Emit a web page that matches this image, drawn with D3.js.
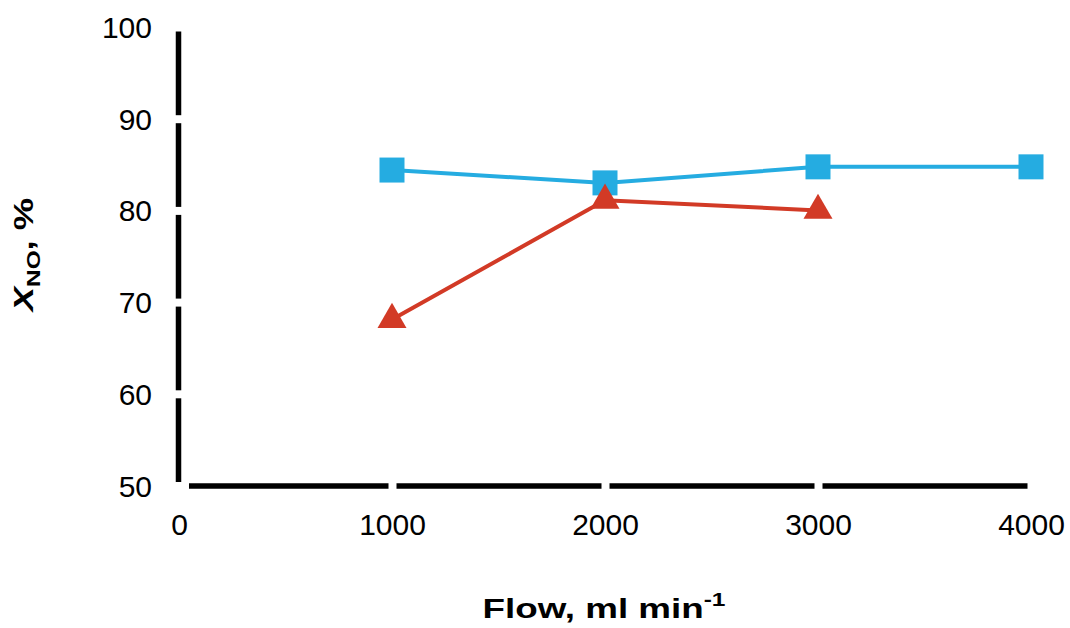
<!DOCTYPE html>
<html>
<head>
<meta charset="utf-8">
<script src="https://cdn.jsdelivr.net/npm/d3@7"></script>
<style>
  html, body { margin: 0; padding: 0; background: #fff; }
  svg { display: block; font-family: "Liberation Sans", Arial, sans-serif; }
</style>
</head>
<body>
<svg id="chart" width="1070" height="628"></svg>
<script>
// ---- data ----
const flowBlue = [1000, 2000, 3000, 4000];
const xnoBlue = [84.4, 83.0, 84.75, 84.75];
const flowRed = [1000, 2000, 3000];
const xnoRed = [68.1, 81.1, 80.0];
const xTicks = [0, 1000, 2000, 3000, 4000];
const yTicks = [50, 60, 70, 80, 90, 100];

// ---- layout ----
const svg = d3.select("#chart");
const x = d3.scaleLinear().domain([0, 4000]).range([179, 1031]);
const y = d3.scaleLinear().domain([50, 100]).range([485.5, 27]);

const blueColor = "#25ACE1";
const redColor = "#D23A26";
const fmt = d3.format("d");

// x axis (drawn first)
const gx = svg.append("g").attr("transform", `translate(0,${y(50)})`)
  .call(d3.axisBottom(x).tickValues(xTicks).tickFormat(fmt).tickSizeOuter(0).tickSize(0).tickPadding(0));
gx.select(".domain").attr("stroke", "#000").attr("stroke-width", 5.5);
gx.selectAll(".tick line").attr("stroke", "#fff").attr("stroke-width", 8)
  .attr("y1", -11).attr("y2", 11);
gx.selectAll(".tick text").attr("fill", "#000").attr("font-size", 30)
  .attr("font-family", "'Liberation Sans', Arial, sans-serif")
  .attr("y", 535 - y(50)).attr("dy", null);

// y axis
const gy = svg.append("g").attr("transform", `translate(${x(0) - 1},0)`)
  .call(d3.axisLeft(y).tickValues(yTicks).tickFormat(fmt).tickSizeOuter(0).tickSize(0).tickPadding(0));
gy.select(".domain").attr("stroke", "#000").attr("stroke-width", 5.5);
gy.selectAll(".tick line").attr("stroke", "#fff").attr("stroke-width", 8)
  .attr("x1", -11).attr("x2", 11);
gy.selectAll(".tick text").attr("fill", "#000").attr("font-size", 30)
  .attr("font-family", "'Liberation Sans', Arial, sans-serif")
  .attr("x", 152 - (x(0) - 1)).attr("dy", "0.35em");

// series
function drawSeries(xs, ys, color, symbolType, size) {
  const pts = xs.map((v, i) => [x(v), y(ys[i])]);
  svg.append("path")
    .attr("d", d3.line()(pts))
    .attr("fill", "none").attr("stroke", color).attr("stroke-width", 4);
  svg.append("g").selectAll("path").data(pts).join("path")
    .attr("transform", d => `translate(${d[0]},${d[1]})`)
    .attr("d", d3.symbol().type(symbolType).size(size))
    .attr("fill", color);
}
drawSeries(flowBlue, xnoBlue, blueColor, d3.symbolSquare, 625);
drawSeries(flowRed, xnoRed, redColor, d3.symbolTriangle, 364);

// axis titles
const xt = svg.append("g").attr("transform", "translate(604,618) scale(1.29,1)")
  .append("text")
  .attr("text-anchor", "middle")
  .attr("font-size", 28.5).attr("font-weight", "bold").attr("fill", "#000");
xt.append("tspan").text("Flow, ml min");
xt.append("tspan").attr("font-size", 19).attr("dy", -12).text("-1");

const yt = svg.append("g").attr("transform", "translate(33,254.5) rotate(-90) scale(1.28,1)")
  .append("text")
  .attr("text-anchor", "middle")
  .attr("font-size", 28.5).attr("font-weight", "bold").attr("fill", "#000");
yt.append("tspan").attr("font-style", "italic").text("X");
yt.append("tspan").attr("font-size", 19).attr("dy", 7).text("NO");
yt.append("tspan").attr("dy", -7).text(", %");
</script>
</body>
</html>
